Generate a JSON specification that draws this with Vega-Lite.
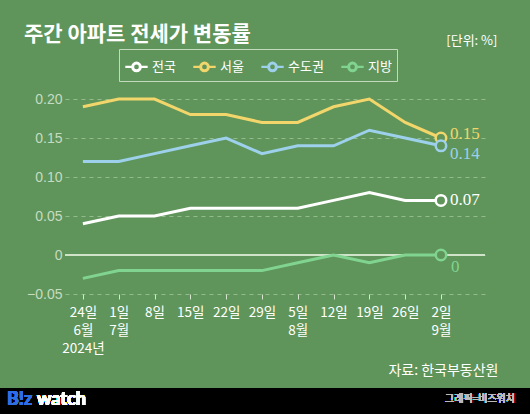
{
  "$schema": "https://vega.github.io/schema/vega-lite/v6.json",
  "width": 420,
  "height": 195,
  "autosize": {"type": "none"},
  "padding": {"left": 65, "top": 99, "right": 45, "bottom": 120},
  "background": "#5f955a",
  "config": {"view": {"stroke": null}, "font": "Noto Sans CJK KR"},
  "title": {
    "text": "주간 아파트 전세가 변동률",
    "anchor": "start",
    "frame": "group",
    "dx": -41,
    "offset": 0,
    "dy": 11,
    "fontSize": 21,
    "fontWeight": "bold",
    "color": "#ffffff",
    "font": "Noto Sans CJK KR"
  },
  "data": {
    "values": [
      {"date": "2024-06-24", "i": 0, "region": "전국", "value": 0.04},
      {"date": "2024-07-01", "i": 1, "region": "전국", "value": 0.05},
      {"date": "2024-07-08", "i": 2, "region": "전국", "value": 0.05},
      {"date": "2024-07-15", "i": 3, "region": "전국", "value": 0.06},
      {"date": "2024-07-22", "i": 4, "region": "전국", "value": 0.06},
      {"date": "2024-07-29", "i": 5, "region": "전국", "value": 0.06},
      {"date": "2024-08-05", "i": 6, "region": "전국", "value": 0.06},
      {"date": "2024-08-12", "i": 7, "region": "전국", "value": 0.07},
      {"date": "2024-08-19", "i": 8, "region": "전국", "value": 0.08},
      {"date": "2024-08-26", "i": 9, "region": "전국", "value": 0.07},
      {"date": "2024-09-02", "i": 10, "region": "전국", "value": 0.07},
      {"date": "2024-06-24", "i": 0, "region": "서울", "value": 0.19},
      {"date": "2024-07-01", "i": 1, "region": "서울", "value": 0.20},
      {"date": "2024-07-08", "i": 2, "region": "서울", "value": 0.20},
      {"date": "2024-07-15", "i": 3, "region": "서울", "value": 0.18},
      {"date": "2024-07-22", "i": 4, "region": "서울", "value": 0.18},
      {"date": "2024-07-29", "i": 5, "region": "서울", "value": 0.17},
      {"date": "2024-08-05", "i": 6, "region": "서울", "value": 0.17},
      {"date": "2024-08-12", "i": 7, "region": "서울", "value": 0.19},
      {"date": "2024-08-19", "i": 8, "region": "서울", "value": 0.20},
      {"date": "2024-08-26", "i": 9, "region": "서울", "value": 0.17},
      {"date": "2024-09-02", "i": 10, "region": "서울", "value": 0.15},
      {"date": "2024-06-24", "i": 0, "region": "수도권", "value": 0.12},
      {"date": "2024-07-01", "i": 1, "region": "수도권", "value": 0.12},
      {"date": "2024-07-08", "i": 2, "region": "수도권", "value": 0.13},
      {"date": "2024-07-15", "i": 3, "region": "수도권", "value": 0.14},
      {"date": "2024-07-22", "i": 4, "region": "수도권", "value": 0.15},
      {"date": "2024-07-29", "i": 5, "region": "수도권", "value": 0.13},
      {"date": "2024-08-05", "i": 6, "region": "수도권", "value": 0.14},
      {"date": "2024-08-12", "i": 7, "region": "수도권", "value": 0.14},
      {"date": "2024-08-19", "i": 8, "region": "수도권", "value": 0.16},
      {"date": "2024-08-26", "i": 9, "region": "수도권", "value": 0.15},
      {"date": "2024-09-02", "i": 10, "region": "수도권", "value": 0.14},
      {"date": "2024-06-24", "i": 0, "region": "지방", "value": -0.03},
      {"date": "2024-07-01", "i": 1, "region": "지방", "value": -0.02},
      {"date": "2024-07-08", "i": 2, "region": "지방", "value": -0.02},
      {"date": "2024-07-15", "i": 3, "region": "지방", "value": -0.02},
      {"date": "2024-07-22", "i": 4, "region": "지방", "value": -0.02},
      {"date": "2024-07-29", "i": 5, "region": "지방", "value": -0.02},
      {"date": "2024-08-05", "i": 6, "region": "지방", "value": -0.01},
      {"date": "2024-08-12", "i": 7, "region": "지방", "value": 0},
      {"date": "2024-08-19", "i": 8, "region": "지방", "value": -0.01},
      {"date": "2024-08-26", "i": 9, "region": "지방", "value": 0},
      {"date": "2024-09-02", "i": 10, "region": "지방", "value": 0}
    ]
  },
  "encoding": {
    "x": {
      "field": "i",
      "type": "quantitative",
      "scale": {"domain": [-0.5, 11.23], "nice": false, "zero": false},
      "axis": {
        "values": [0, 1, 2, 3, 4, 5, 6, 7, 8, 9, 10],
        "labelExpr": "[['24일','6월','2024년'],['1일','7월'],'8일','15일','22일','29일',['5일','8월'],'12일','19일','26일',['2일','9월']][datum.value]",
        "grid": false,
        "domain": false,
        "ticks": true,
        "tickSize": 5,
        "tickColor": "#d6e6d2",
        "tickWidth": 1,
        "labelColor": "#ffffff",
        "labelFontSize": 13.5,
        "labelFont": "Noto Sans CJK KR",
        "labelLineHeight": 18,
        "labelPadding": 6,
        "labelBaseline": "top",
        "labelFlush": false,
        "labelOverlap": false,
        "title": "자료: 한국부동산원",
        "titleX": 433,
        "titleY": 76,
        "titleAlign": "right",
        "titleBaseline": "middle",
        "titleColor": "#ffffff",
        "titleFontSize": 14,
        "titleFontWeight": "normal",
        "titleFont": "Noto Sans CJK KR"
      }
    },
    "y": {
      "field": "value",
      "type": "quantitative",
      "scale": {"domain": [-0.05, 0.2], "nice": false},
      "axis": {
        "values": [-0.05, 0, 0.05, 0.1, 0.15, 0.2],
        "labelExpr": "datum.value == 0 ? '0' : format(datum.value, '.2f')",
        "grid": true,
        "gridColor": "#93bb8d",
        "gridDash": [4, 4],
        "gridWidth": 1,
        "domain": false,
        "ticks": false,
        "labelPadding": 3,
        "labelColor": "#c6dcc1",
        "labelFontSize": 14,
        "labelFont": "Liberation Sans",
        "title": "[단위: %]",
        "titleAngle": 0,
        "titleX": 432,
        "titleY": -59,
        "titleAlign": "right",
        "titleBaseline": "middle",
        "titleColor": "#ffffff",
        "titleFontSize": 13,
        "titleFontWeight": "normal",
        "titleFont": "Noto Sans CJK KR"
      }
    }
  },
  "layer": [
    {
      "mark": {"type": "rule", "color": "#cfe3c9", "strokeWidth": 1.2},
      "encoding": {"y": {"datum": 0}, "x": null}
    },
    {
      "mark": {"type": "line", "strokeWidth": 3},
      "encoding": {
        "color": {
          "field": "region",
          "type": "nominal",
          "scale": {"domain": ["전국", "서울", "수도권", "지방"], "range": ["#ffffff", "#f2d66b", "#9dd0ea", "#80d490"]},
          "legend": {
            "orient": "none",
            "legendX": 54,
            "legendY": -50,
            "direction": "horizontal",
            "title": null,
            "strokeColor": "#c3dabe",
            "padding": 5,
            "labelColor": "#ffffff",
            "labelFontSize": 13,
            "labelFont": "Noto Sans CJK KR",
            "symbolType": "M-1,0H-0.38M0.38,0H1M0.38,0A0.38,0.38,0,1,1,-0.38,0A0.38,0.38,0,1,1,0.38,0M0.31,0A0.31,0.31,0,1,0,-0.31,0A0.31,0.31,0,1,0,0.31,0Z",
            "symbolSize": 500,
            "symbolStrokeWidth": 2.2,
            "columnPadding": 12,
            "labelOffset": 3
          }
        }
      }
    },
    {
      "transform": [{"filter": "datum.i == 10"}],
      "mark": {"type": "point", "filled": true, "fill": "#5f955a", "size": 110, "strokeWidth": 2.5, "opacity": 1},
      "encoding": {
        "stroke": {
          "field": "region",
          "type": "nominal",
          "scale": {"domain": ["전국", "서울", "수도권", "지방"], "range": ["#ffffff", "#f2d66b", "#9dd0ea", "#80d490"]},
          "legend": null
        }
      }
    },
    {
      "transform": [{"filter": "datum.i == 10 && datum.region == '전국'"}],
      "mark": {"type": "text", "align": "left", "dx": 9, "dy": 0, "font": "Liberation Serif", "fontSize": 17, "baseline": "middle"},
      "encoding": {
        "text": {"field": "value", "format": ".2f"},
        "color": {"field": "region", "type": "nominal", "legend": null}
      }
    },
    {
      "transform": [{"filter": "datum.i == 10 && datum.region == '서울'"}],
      "mark": {"type": "text", "align": "left", "dx": 9, "dy": -4, "font": "Liberation Serif", "fontSize": 17, "baseline": "middle"},
      "encoding": {
        "text": {"field": "value", "format": ".2f"},
        "color": {"field": "region", "type": "nominal", "legend": null}
      }
    },
    {
      "transform": [{"filter": "datum.i == 10 && datum.region == '수도권'"}],
      "mark": {"type": "text", "align": "left", "dx": 9, "dy": 8, "font": "Liberation Serif", "fontSize": 17, "baseline": "middle"},
      "encoding": {
        "text": {"field": "value", "format": ".2f"},
        "color": {"field": "region", "type": "nominal", "legend": null}
      }
    },
    {
      "transform": [{"filter": "datum.i == 10 && datum.region == '지방'"}],
      "mark": {"type": "text", "align": "left", "dx": 10, "dy": 12, "font": "Liberation Serif", "fontSize": 17, "baseline": "middle"},
      "encoding": {
        "text": {"field": "value", "format": "d"},
        "color": {"field": "region", "type": "nominal", "legend": null}
      }
    },
    {
      "mark": {"type": "rect", "color": "#000000", "clip": false},
      "encoding": {"x": {"value": -65}, "x2": {"value": 465}, "y": {"value": 289}, "y2": {"value": 315}}
    },
    {
      "mark": {"type": "text", "text": "B!z", "align": "left", "baseline": "middle", "font": "Lato", "fontWeight": "bold", "fontSize": 18, "color": "#2e6fe6"},
      "encoding": {"x": {"value": -58}, "y": {"value": 301}}
    },
    {
      "mark": {"type": "text", "text": "watch", "align": "left", "baseline": "middle", "font": "Lato", "fontWeight": "bold", "fontSize": 18, "color": "#ffffff"},
      "encoding": {"x": {"value": -28}, "y": {"value": 301}}
    },
    {
      "mark": {"type": "text", "text": "그래픽=비즈워치", "align": "right", "baseline": "middle", "font": "Noto Sans CJK KR", "fontSize": 10, "color": "#bbbbbb"},
      "encoding": {"x": {"value": 450}, "y": {"value": 300}}
    }
  ]
}
